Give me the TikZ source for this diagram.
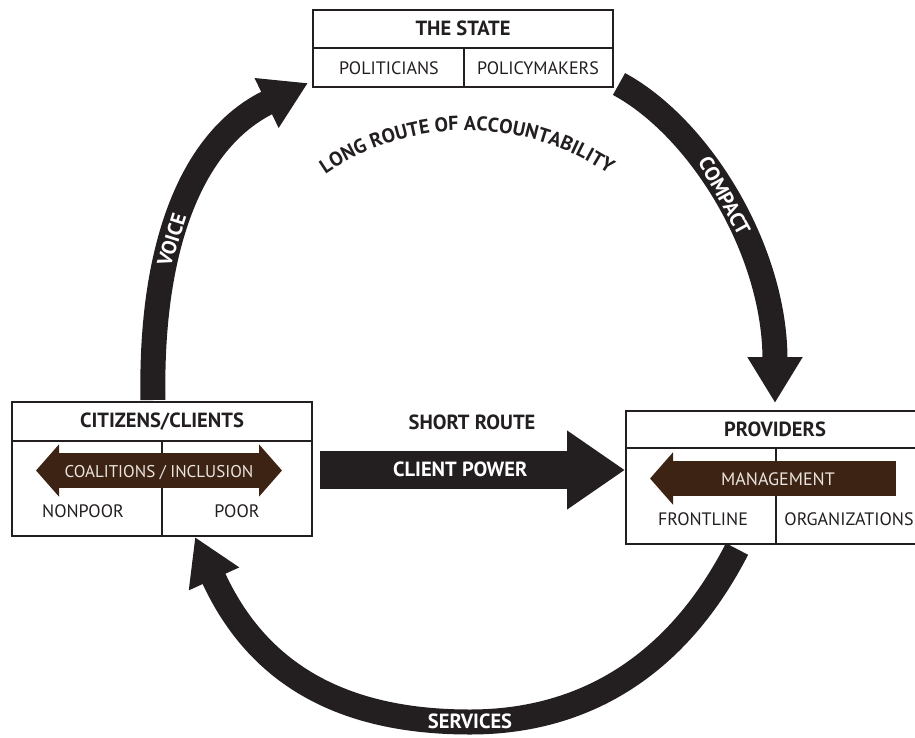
\documentclass[tikz,border=0pt]{standalone}
\usepackage{fontspec}
\setmainfont{PT Sans}
\usetikzlibrary{arrows.meta,decorations.text}
\definecolor{ink}{HTML}{231F20}
\definecolor{mgmt}{HTML}{3D2314}
\definecolor{pale}{HTML}{EAE4DE}

\begin{document}
\begin{tikzpicture}[x=1pt, y=-1pt,
    every node/.style={font=\fontsize{18}{21}\selectfont, text=ink, inner sep=0pt, text height=13pt, text depth=0pt},
    head/.style={font=\bfseries\fontsize{20.5}{24}\selectfont},
    boxline/.style={draw=ink, line width=2.5pt},
    roundarrow/.style={draw=ink, line width=25pt, -{Triangle[length=46pt, width=52pt]}},
    brownarrow/.style={draw=mgmt, line width=35pt},
    onarrow/.style={text=white, font=\bfseries\fontsize{20.5}{24}\selectfont},
    onbrown/.style={text=pale}]
  \useasboundingbox (0,0) rectangle (915,737);
  \clip (0,0) rectangle (915,737);

  % ends of the long route arrows
  \coordinate (voice-start) at (153,400);
  \coordinate (voice-end) at (308,83);
  \coordinate (compact-start) at (619,84);
  \coordinate (compact-end) at (775,403);
  \coordinate (services-start) at (737,549);
  \coordinate (services-low) at (470,722);
  \coordinate (services-end) at (195,537);

  % Voice: citizens to the state
  \draw[roundarrow] (voice-start) .. controls (150,250) and (190,140) .. node[pos=0.4, sloped, onarrow] (voice) {VOICE} (voice-end);
  % Compact: the state to providers
  \draw[roundarrow] (compact-start) .. controls (700,128) and (775,250) .. node[pos=0.48, sloped, onarrow] (compact) {COMPACT} (compact-end);
  % Services: providers back to citizens
  \draw[roundarrow] (services-start) .. controls (680,660) and (590,722) .. (services-low)
    .. controls (350,722) and (260,680) .. (services-end);
  \node[onarrow, anchor=center] (services) at (services-low) {SERVICES};

  % long route label on an arc
  \path[decorate, decoration={text along path, text align=center,
      text={|\bfseries\fontsize{20}{24}\selectfont\color{ink}|LONG ROUTE OF ACCOUNTABILITY}}]
    (320,178) arc[start angle=234, end angle=306, radius=250];

  % The state box
  \draw[boxline, fill=white] (313,10) rectangle (613,87);
  \draw[boxline] (313,48) -- (613,48) (464,48) -- (464,87);
  \node[head] (state) at (463,29) {THE STATE};
  \node (politicians) at (389,68) {POLITICIANS};
  \node (policymakers) at (538,68) {POLICYMAKERS};

  % Citizens/clients box
  \draw[boxline, fill=white] (12,402) rectangle (312,536);
  \draw[boxline] (12,441) -- (312,441) (162,441) -- (162,536);
  \node[head] (citizens) at (162,421) {CITIZENS/CLIENTS};
  \draw[brownarrow, {Triangle[length=23pt, width=51pt]}-{Triangle[length=23pt, width=51pt]}] (36,470.5) -- node[onbrown, font=\fontsize{17}{20}\selectfont] (coalitions) {COALITIONS / INCLUSION} (282,470.5);
  \node (nonpoor) at (83,511) {NONPOOR};
  \node (poor) at (237,511) {POOR};

  % Providers box
  \draw[boxline, fill=white] (626,411) rectangle (925,544);
  \draw[boxline] (626,448) -- (925,448) (776,448) -- (776,544);
  \node[head] (providers) at (775,430) {PROVIDERS};
  \draw[brownarrow, {Triangle[length=23pt, width=51pt]}-] (650,478.5) -- node[pos=0.52, onbrown] (management) {MANAGEMENT} (896,478.5);
  \node (frontline) at (703,519) {FRONTLINE};
  \node (organizations) at (849,519) {ORGANIZATIONS};

  % Short route
  \coordinate (short-start) at (320,470);
  \coordinate (short-end) at (625,470);
  \node[head] (short) at (472,423) {SHORT ROUTE};
  \draw[draw=ink, line width=38pt, -{Triangle[length=58pt, width=75pt]}] (short-start) -- node[pos=0.46, onarrow] (power) {CLIENT POWER} (short-end);
\end{tikzpicture}
\end{document}
